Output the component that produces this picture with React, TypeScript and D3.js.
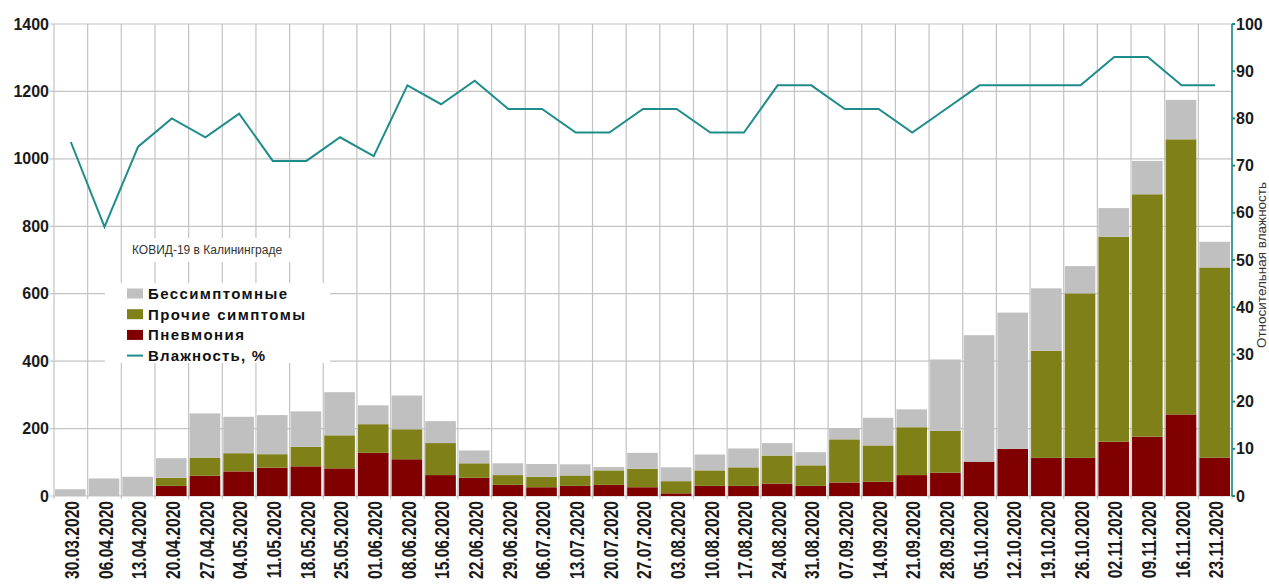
import React, { useEffect, useRef } from 'react'
import * as d3 from 'd3'

// weekly dates
const dates = [
  '30.03.2020', '06.04.2020', '13.04.2020', '20.04.2020', '27.04.2020', '04.05.2020', '11.05.2020',
  '18.05.2020', '25.05.2020', '01.06.2020', '08.06.2020', '15.06.2020', '22.06.2020', '29.06.2020',
  '06.07.2020', '13.07.2020', '20.07.2020', '27.07.2020', '03.08.2020', '10.08.2020', '17.08.2020',
  '24.08.2020', '31.08.2020', '07.09.2020', '14.09.2020', '21.09.2020', '28.09.2020', '05.10.2020',
  '12.10.2020', '19.10.2020', '26.10.2020', '02.11.2020', '09.11.2020', '16.11.2020', '23.11.2020'
]

const pneumonia = [0, 0, 0, 30, 60, 73, 84, 88, 82, 128, 109, 62, 54, 33, 26, 30, 33, 26, 8, 30, 30, 37, 30, 40, 42, 62, 69, 102, 140, 113, 113, 161, 176, 242, 114]
const otherSymptoms = [0, 0, 0, 24, 54, 54, 40, 58, 98, 85, 89, 95, 43, 29, 31, 31, 43, 55, 36, 46, 55, 83, 61, 128, 108, 142, 124, 0, 0, 318, 488, 608, 719, 816, 564]
const asymptomatic = [20, 52, 57, 58, 131, 108, 116, 105, 128, 56, 100, 65, 38, 35, 38, 33, 10, 47, 41, 47, 56, 37, 39, 33, 82, 53, 212, 375, 404, 185, 81, 85, 99, 117, 76]
const humidity = [75, 57, 74, 80, 76, 81, 71, 71, 76, 72, 87, 83, 88, 82, 82, 77, 77, 82, 82, 77, 77, 87, 87, 82, 82, 77, 82, 87, 87, 87, 87, 93, 93, 87, 87]

const leftTicks = [0, 200, 400, 600, 800, 1000, 1200, 1400]
const rightTicks = [0, 10, 20, 30, 40, 50, 60, 70, 80, 90, 100]

const series = [
  { key: 'asym', label: 'Бессимптомные', color: '#c0c0c0' },
  { key: 'other', label: 'Прочие симптомы', color: '#808019' },
  { key: 'pneu', label: 'Пневмония', color: '#800000' }
]

const W = 1269
const H = 586
const teal = '#1f8c8c'
const grid = '#c3c3c3'

const App = () => {
  const ref = useRef(null)

  useEffect(() => {
    const margin = { top: 24, right: 37, bottom: 90, left: 54 }
    const svg = d3.select(ref.current)
    svg.selectAll('*').remove()

    const rows = dates.map((d, i) => ({
      date: d, pneu: pneumonia[i], other: otherSymptoms[i], asym: asymptomatic[i], hum: humidity[i]
    }))

    const x = d3.scaleBand()
      .domain(dates)
      .range([margin.left, W - margin.right])
      .padding(0)

    const y = d3.scaleLinear()
      .domain([0, 1400])
      .range([H - margin.bottom, margin.top])

    const y2 = d3.scaleLinear()
      .domain([0, 100])
      .range([H - margin.bottom, margin.top])

    const font = 'Liberation Sans, Arial, sans-serif'

    // grid
    const g = svg.append('g')
    g.selectAll('line.h')
      .data(leftTicks)
      .join('line')
      .attr('x1', margin.left - 4)
      .attr('x2', W - margin.right)
      .attr('y1', d => y(d))
      .attr('y2', d => y(d))
      .attr('stroke', grid)
      .attr('stroke-width', 1.2)

    const bounds = dates.map(d => x(d)).concat([W - margin.right])
    g.selectAll('line.v')
      .data(bounds)
      .join('line')
      .attr('x1', d => d)
      .attr('x2', d => d)
      .attr('y1', margin.top)
      .attr('y2', H - margin.bottom + 3)
      .attr('stroke', grid)
      .attr('stroke-width', 1.2)

    // bars
    const stack = d3.stack().keys(['pneu', 'other', 'asym'])(rows)
    const colorOf = k => series.find(s => s.key === k).color
    const bw = x.bandwidth()
    svg.append('g')
      .selectAll('g')
      .data(stack)
      .join('g')
      .attr('fill', d => colorOf(d.key))
      .selectAll('rect')
      .data(d => d)
      .join('rect')
      .attr('x', d => x(d.data.date) + bw * 0.03)
      .attr('width', bw * 0.91)
      .attr('y', d => y(d[1]))
      .attr('height', d => y(d[0]) - y(d[1]))

    // humidity line
    const line = d3.line()
      .x(d => x(d.date) + bw / 2)
      .y(d => y2(d.hum))
    svg.append('path')
      .datum(rows)
      .attr('d', line)
      .attr('fill', 'none')
      .attr('stroke', teal)
      .attr('stroke-width', 2)

    // left axis labels
    svg.append('g')
      .selectAll('text')
      .data(leftTicks)
      .join('text')
      .attr('x', margin.left - 5)
      .attr('y', d => y(d))
      .attr('dy', '0.35em')
      .attr('text-anchor', 'end')
      .attr('font-family', font)
      .attr('font-weight', 'bold')
      .attr('font-size', 16)
      .attr('fill', '#1a1a1a')
      .text(d => d)

    // right axis
    const ra = svg.append('g').attr('transform', `translate(${W - margin.right},0)`)
    ra.append('line')
      .attr('y1', y2(100))
      .attr('y2', y2(0))
      .attr('stroke', teal)
      .attr('stroke-width', 1.6)
    ra.selectAll('line.t')
      .data(rightTicks)
      .join('line')
      .attr('x1', 0)
      .attr('x2', 3)
      .attr('y1', d => y2(d))
      .attr('y2', d => y2(d))
      .attr('stroke', teal)
      .attr('stroke-width', 2)
    ra.selectAll('text')
      .data(rightTicks)
      .join('text')
      .attr('x', 4)
      .attr('y', d => y2(d))
      .attr('dy', '0.35em')
      .attr('font-family', font)
      .attr('font-weight', 'bold')
      .attr('font-size', 16)
      .attr('fill', '#1a1a1a')
      .text(d => d)

    svg.append('text')
      .attr('transform', `translate(1261,${(margin.top + H - margin.bottom) / 2 + 5}) rotate(-90)`)
      .attr('text-anchor', 'middle')
      .attr('dy', '0.35em')
      .attr('font-family', font)
      .attr('font-size', 13.5)
      .attr('fill', '#333')
      .text('Относительная влажность')

    // x labels
    svg.append('g')
      .selectAll('text')
      .data(dates)
      .join('text')
      .attr('transform', d => `translate(${x(d) + bw / 2 + 1},${H - margin.bottom + 5}) rotate(-90) scale(0.78,1)`)
      .attr('text-anchor', 'end')
      .attr('dy', '0.36em')
      .attr('font-family', font)
      .attr('font-weight', 'bold')
      .attr('font-size', 20)
      .attr('fill', '#1a1a1a')
      .text(d => d)

    // title
    svg.append('rect')
      .attr('x', 127).attr('y', 238).attr('width', 168).attr('height', 24)
      .attr('fill', '#fff')
    svg.append('text')
      .attr('x', 132)
      .attr('y', 250)
      .attr('dy', '0.35em')
      .attr('font-family', font)
      .attr('font-size', 12)
      .attr('fill', '#333')
      .text('КОВИД-19 в Калининграде')

    // legend
    const lg = svg.append('g').attr('transform', 'translate(105,283)')
    lg.append('rect').attr('width', 225).attr('height', 80).attr('fill', '#fff')
    const items = series.map(s => ({ label: s.label, color: s.color, line: false }))
      .concat([{ label: 'Влажность, %', color: teal, line: true }])
    const widths = [139, 157, 96, 117]
    const it = lg.selectAll('g')
      .data(items)
      .join('g')
      .attr('transform', (d, i) => `translate(0,${10.5 + i * 20.7})`)
    it.filter(d => !d.line)
      .append('rect')
      .attr('x', 22).attr('y', -5).attr('width', 16).attr('height', 10)
      .attr('fill', d => d.color)
    it.filter(d => d.line)
      .append('line')
      .attr('x1', 22).attr('x2', 38)
      .attr('stroke', d => d.color)
      .attr('stroke-width', 2)
    it.append('text')
      .attr('x', 43)
      .attr('dy', '0.36em')
      .attr('font-family', font)
      .attr('font-weight', 'bold')
      .attr('font-size', 15)
      .attr('fill', '#111')
      .attr('textLength', (d, i) => widths[i])
      .attr('lengthAdjust', 'spacing')
      .text(d => d.label)
  }, [])

  return (
    <svg width={W} height={H} ref={ref} style={{ position: 'absolute', left: 0, top: 0, background: '#fff' }} />
  )
}

export default App
